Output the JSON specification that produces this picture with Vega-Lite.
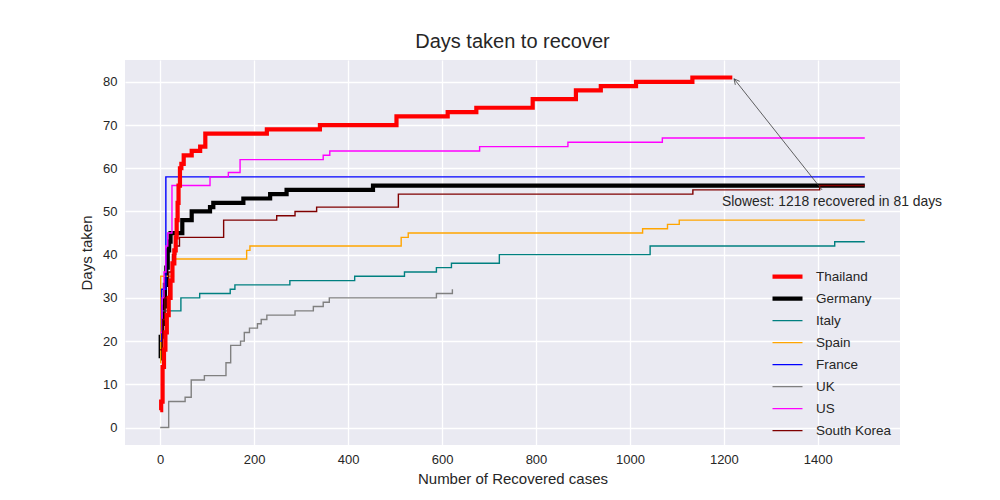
{
  "$schema": "https://vega.github.io/schema/vega-lite/v6.json",
  "width": 775,
  "height": 385,
  "autosize": {"type": "none"},
  "padding": {"left": 125, "top": 60, "right": 100, "bottom": 55},
  "background": "white",
  "title": {
    "text": "Days taken to recover",
    "font": "Liberation Sans",
    "fontSize": 20,
    "fontWeight": "normal",
    "color": "#262626",
    "offset": 8
  },
  "config": {
    "view": {"fill": "#EAEAF2", "stroke": null},
    "axis": {
      "domain": false,
      "ticks": false,
      "grid": true,
      "gridColor": "white",
      "gridWidth": 1.3,
      "labelFont": "Liberation Sans",
      "labelFontSize": 13,
      "labelColor": "#262626",
      "labelPadding": 8,
      "titleFont": "Liberation Sans",
      "titleFontSize": 15,
      "titleFontWeight": "normal",
      "titleColor": "#262626"
    }
  },
  "datasets": {
    "cases": [
      {"country": "Germany", "recovered": 0, "days": 16},
      {"country": "Germany", "recovered": 1, "days": 21},
      {"country": "Germany", "recovered": 4, "days": 24},
      {"country": "Germany", "recovered": 7, "days": 28},
      {"country": "Germany", "recovered": 10, "days": 33},
      {"country": "Germany", "recovered": 13, "days": 37},
      {"country": "Germany", "recovered": 16, "days": 41},
      {"country": "Germany", "recovered": 19, "days": 43},
      {"country": "Germany", "recovered": 22, "days": 45},
      {"country": "Germany", "recovered": 47, "days": 48},
      {"country": "Germany", "recovered": 67, "days": 50},
      {"country": "Germany", "recovered": 106, "days": 51},
      {"country": "Germany", "recovered": 113, "days": 52},
      {"country": "Germany", "recovered": 177, "days": 53},
      {"country": "Germany", "recovered": 234, "days": 54},
      {"country": "Germany", "recovered": 269, "days": 55},
      {"country": "Germany", "recovered": 453, "days": 56},
      {"country": "Germany", "recovered": 1500, "days": 56},
      {"country": "Italy", "recovered": 0, "days": 20},
      {"country": "Italy", "recovered": 3, "days": 27},
      {"country": "Italy", "recovered": 44, "days": 30},
      {"country": "Italy", "recovered": 84, "days": 31},
      {"country": "Italy", "recovered": 149, "days": 32},
      {"country": "Italy", "recovered": 159, "days": 33},
      {"country": "Italy", "recovered": 276, "days": 34},
      {"country": "Italy", "recovered": 414, "days": 35},
      {"country": "Italy", "recovered": 520, "days": 36},
      {"country": "Italy", "recovered": 588, "days": 37},
      {"country": "Italy", "recovered": 620, "days": 38},
      {"country": "Italy", "recovered": 722, "days": 40},
      {"country": "Italy", "recovered": 1043, "days": 42},
      {"country": "Italy", "recovered": 1436, "days": 43},
      {"country": "Italy", "recovered": 1500, "days": 43},
      {"country": "Spain", "recovered": 0, "days": 15},
      {"country": "Spain", "recovered": 1, "days": 35},
      {"country": "Spain", "recovered": 28, "days": 39},
      {"country": "Spain", "recovered": 184, "days": 41},
      {"country": "Spain", "recovered": 191, "days": 42},
      {"country": "Spain", "recovered": 513, "days": 44},
      {"country": "Spain", "recovered": 528, "days": 45},
      {"country": "Spain", "recovered": 1027, "days": 46},
      {"country": "Spain", "recovered": 1080, "days": 47},
      {"country": "Spain", "recovered": 1105, "days": 48},
      {"country": "Spain", "recovered": 1500, "days": 48},
      {"country": "France", "recovered": 0, "days": 20},
      {"country": "France", "recovered": 3, "days": 32},
      {"country": "France", "recovered": 12, "days": 58},
      {"country": "France", "recovered": 1500, "days": 58},
      {"country": "UK", "recovered": 0, "days": 0},
      {"country": "UK", "recovered": 18, "days": 6},
      {"country": "UK", "recovered": 53, "days": 7},
      {"country": "UK", "recovered": 66, "days": 11},
      {"country": "UK", "recovered": 94, "days": 12},
      {"country": "UK", "recovered": 140, "days": 15},
      {"country": "UK", "recovered": 150, "days": 19},
      {"country": "UK", "recovered": 171, "days": 20},
      {"country": "UK", "recovered": 179, "days": 22},
      {"country": "UK", "recovered": 190, "days": 23},
      {"country": "UK", "recovered": 207, "days": 24},
      {"country": "UK", "recovered": 215, "days": 25},
      {"country": "UK", "recovered": 227, "days": 26},
      {"country": "UK", "recovered": 287, "days": 27},
      {"country": "UK", "recovered": 326, "days": 28},
      {"country": "UK", "recovered": 347, "days": 29},
      {"country": "UK", "recovered": 360, "days": 30},
      {"country": "UK", "recovered": 588, "days": 31},
      {"country": "UK", "recovered": 622, "days": 32},
      {"country": "US", "recovered": 0, "days": 22},
      {"country": "US", "recovered": 4, "days": 30},
      {"country": "US", "recovered": 8, "days": 36},
      {"country": "US", "recovered": 12, "days": 42},
      {"country": "US", "recovered": 16, "days": 45},
      {"country": "US", "recovered": 25, "days": 56},
      {"country": "US", "recovered": 106, "days": 58},
      {"country": "US", "recovered": 145, "days": 59},
      {"country": "US", "recovered": 170, "days": 62},
      {"country": "US", "recovered": 347, "days": 63},
      {"country": "US", "recovered": 361, "days": 64},
      {"country": "US", "recovered": 680, "days": 65},
      {"country": "US", "recovered": 868, "days": 66},
      {"country": "US", "recovered": 1069, "days": 67},
      {"country": "US", "recovered": 1500, "days": 67},
      {"country": "South Korea", "recovered": 0, "days": 18},
      {"country": "South Korea", "recovered": 5, "days": 25},
      {"country": "South Korea", "recovered": 10, "days": 30},
      {"country": "South Korea", "recovered": 18, "days": 36},
      {"country": "South Korea", "recovered": 26, "days": 40},
      {"country": "South Korea", "recovered": 33, "days": 42},
      {"country": "South Korea", "recovered": 41, "days": 44},
      {"country": "South Korea", "recovered": 135, "days": 48},
      {"country": "South Korea", "recovered": 248, "days": 49},
      {"country": "South Korea", "recovered": 287, "days": 50},
      {"country": "South Korea", "recovered": 333, "days": 51},
      {"country": "South Korea", "recovered": 507, "days": 54},
      {"country": "South Korea", "recovered": 1134, "days": 55},
      {"country": "South Korea", "recovered": 1404, "days": 56},
      {"country": "South Korea", "recovered": 1500, "days": 56},
      {"country": "Thailand", "recovered": 0, "days": 4},
      {"country": "Thailand", "recovered": 2, "days": 6},
      {"country": "Thailand", "recovered": 5, "days": 14},
      {"country": "Thailand", "recovered": 8, "days": 18},
      {"country": "Thailand", "recovered": 11, "days": 22},
      {"country": "Thailand", "recovered": 14, "days": 26},
      {"country": "Thailand", "recovered": 18, "days": 30},
      {"country": "Thailand", "recovered": 22, "days": 34},
      {"country": "Thailand", "recovered": 26, "days": 38},
      {"country": "Thailand", "recovered": 30, "days": 41},
      {"country": "Thailand", "recovered": 33, "days": 44},
      {"country": "Thailand", "recovered": 35, "days": 48},
      {"country": "Thailand", "recovered": 37, "days": 52},
      {"country": "Thailand", "recovered": 39, "days": 56},
      {"country": "Thailand", "recovered": 42, "days": 60},
      {"country": "Thailand", "recovered": 45, "days": 61},
      {"country": "Thailand", "recovered": 50, "days": 63},
      {"country": "Thailand", "recovered": 67, "days": 64},
      {"country": "Thailand", "recovered": 85, "days": 65},
      {"country": "Thailand", "recovered": 96, "days": 68},
      {"country": "Thailand", "recovered": 227, "days": 69},
      {"country": "Thailand", "recovered": 340, "days": 70},
      {"country": "Thailand", "recovered": 503, "days": 72},
      {"country": "Thailand", "recovered": 612, "days": 73},
      {"country": "Thailand", "recovered": 673, "days": 74},
      {"country": "Thailand", "recovered": 793, "days": 76},
      {"country": "Thailand", "recovered": 885, "days": 78},
      {"country": "Thailand", "recovered": 938, "days": 79},
      {"country": "Thailand", "recovered": 1013, "days": 80},
      {"country": "Thailand", "recovered": 1133, "days": 81},
      {"country": "Thailand", "recovered": 1218, "days": 81}
    ],
    "arrow": [
      {"recovered": 1409, "days": 55, "recovered2": 1221.6, "days2": 80.7},
      {"recovered": 1221.6, "days": 80.7, "recovered2": 1233.7, "days2": 80.1},
      {"recovered": 1221.6, "days": 80.7, "recovered2": 1224.4, "days2": 79.3}
    ],
    "note": [
      {"recovered": 1196, "days": 52.2, "label": "Slowest: 1218 recovered in 81 days"}
    ]
  },
  "encoding": {
    "x": {
      "field": "recovered",
      "type": "quantitative",
      "scale": {"domain": [-75, 1575], "nice": false, "zero": false},
      "axis": {
        "title": "Number of Recovered cases",
        "values": [0, 200, 400, 600, 800, 1000, 1200, 1400],
        "format": "d",
        "titlePadding": 5
      }
    },
    "y": {
      "field": "days",
      "type": "quantitative",
      "scale": {"domain": [-4.05, 85.05], "nice": false, "zero": false},
      "axis": {
        "title": "Days taken",
        "values": [0, 10, 20, 30, 40, 50, 60, 70, 80],
        "titlePadding": 8
      }
    }
  },
  "layer": [
    {
      "data": {"name": "cases"},
      "mark": {"type": "line", "interpolate": "step-after"},
      "encoding": {
        "color": {
          "field": "country",
          "type": "nominal",
          "scale": {
            "domain": ["Thailand", "Germany", "Italy", "Spain", "France", "UK", "US", "South Korea"],
            "range": ["#ff0000", "#000000", "#008080", "#ffa500", "#0000ff", "#808080", "#ff00ff", "#800000"]
          },
          "legend": {
            "title": null,
            "orient": "none",
            "legendX": 645,
            "legendY": 206,
            "padding": 0,
            "symbolType": "stroke",
            "symbolSize": 900,
            "clipHeight": 21.2,
            "rowPadding": 0,
            "labelOffset": 11,
            "labelFont": "Liberation Sans",
            "labelFontSize": 13.5,
            "labelColor": "#262626"
          }
        },
        "strokeWidth": {
          "field": "country",
          "type": "nominal",
          "scale": {
            "type": "ordinal",
            "domain": ["Thailand", "Germany", "Italy", "Spain", "France", "UK", "US", "South Korea"],
            "range": [4.2, 4.2, 1.4, 1.4, 1.4, 1.4, 1.4, 1.4]
          },
          "legend": {
            "title": null,
            "orient": "none",
            "legendX": 645,
            "legendY": 206,
            "padding": 0,
            "symbolType": "stroke",
            "symbolSize": 900,
            "clipHeight": 21.2,
            "rowPadding": 0,
            "labelOffset": 11,
            "labelFont": "Liberation Sans",
            "labelFontSize": 13.5,
            "labelColor": "#262626"
          }
        }
      }
    },
    {
      "data": {"name": "arrow"},
      "mark": {"type": "rule", "color": "#3a3a3a", "strokeWidth": 0.8},
      "encoding": {
        "x2": {"field": "recovered2"},
        "y2": {"field": "days2"}
      }
    },
    {
      "data": {"name": "note"},
      "mark": {
        "type": "text",
        "align": "left",
        "baseline": "middle",
        "font": "Liberation Sans",
        "fontSize": 13.9,
        "color": "#262626"
      },
      "encoding": {
        "text": {"field": "label", "type": "nominal"}
      }
    }
  ]
}
